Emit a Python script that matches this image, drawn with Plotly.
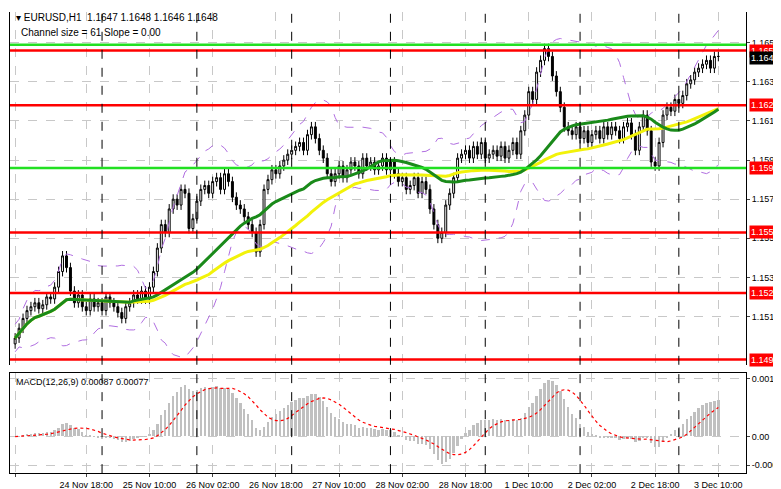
import numpy as np
import pandas as pd
import plotly.graph_objects as go

# closes, in pips above 1.1500, one per H1 bar (24 Nov 00:00 .. 3 Dec 10:00)
close_pips = [
    4, 9, 14, 18, 20, 22, 19, 21, 25, 24,
    30, 38, 46, 40, 28, 22, 26, 20, 18, 24,
    20, 22, 18, 25, 22, 20, 17, 14, 20, 22,
    26, 24, 28, 24, 30, 38, 50, 62, 58, 70,
    75, 72, 80, 78, 60, 65, 74, 80, 82, 78,
    84, 86, 80, 88, 84, 76, 72, 70, 66, 62,
    58, 48, 62, 80, 85, 90, 88, 92, 95, 98,
    100, 102, 104, 100, 108, 112, 106, 100, 96, 88,
    84, 88, 92, 86, 90, 94, 92, 88, 96, 92,
    94, 90, 92, 96, 90, 94, 88, 84, 86, 80,
    82, 86, 78, 84, 80, 70, 62, 55, 58, 72,
    78, 86, 96, 98, 100, 96, 102, 98, 104, 96,
    98, 100, 97, 102, 96, 100, 104, 98, 110, 118,
    130, 126, 140, 146, 152, 148, 138, 130, 122, 112,
    110, 108, 112, 106, 110, 104, 108, 110, 106, 112,
    108, 112, 110, 106, 112, 114, 108, 100, 112, 118,
    110, 94, 92, 104, 118, 122, 120, 126, 124, 128,
    134, 136, 140, 142, 144, 146, 142, 148, 148,
]
tick_bars = [0, 18, 34, 50, 66, 82, 98, 114, 130, 146, 162, 178]
tick_text = ["24 Nov 2025", "24 Nov 18:00", "25 Nov 10:00", "26 Nov 02:00", "26 Nov 18:00",
             "27 Nov 10:00", "28 Nov 02:00", "28 Nov 18:00", "1 Dec 10:00", "2 Dec 02:00",
             "2 Dec 18:00", "3 Dec 10:00"]
separator_bars = [22, 46, 70, 95, 119, 143, 168]
red_levels = [1.1651, 1.1623, 1.1558, 1.1527, 1.1493]
green_levels = [1.1654, 1.1591]
price_ticks = [1.1515, 1.1535, 1.1555, 1.1575, 1.1595, 1.1615, 1.1635, 1.1655]
last_price = 1.1648

close = pd.Series([1.15 + p / 10000 for p in close_pips])
opn = close.shift(1).fillna(close[0] - 0.0003)
wick = 0.00025
high = np.maximum(opn, close) + wick
low = np.minimum(opn, close) - wick
x = list(range(len(close)))

ma_green = close.rolling(30, min_periods=1).mean()
ma_yellow = close.rolling(50, min_periods=1).mean()
mid = close.rolling(20, min_periods=1).mean()
sd = close.rolling(20, min_periods=2).std().bfill()
bb_up, bb_dn = mid + 2 * sd, mid - 2 * sd

macd = close.ewm(span=12).mean() - close.ewm(span=26).mean()
signal = macd.rolling(9, min_periods=1).mean()

fig = go.Figure()
fig.add_trace(go.Scatter(x=x, y=bb_up, mode="lines", line=dict(color="#b06ee0", width=1, dash="dash"), yaxis="y"))
fig.add_trace(go.Scatter(x=x, y=bb_dn, mode="lines", line=dict(color="#b06ee0", width=1, dash="dash"), yaxis="y"))
fig.add_trace(go.Scatter(x=x, y=ma_yellow, mode="lines", line=dict(color="#f2f20a", width=3), yaxis="y"))
fig.add_trace(go.Scatter(x=x, y=ma_green, mode="lines", line=dict(color="#1a8a1a", width=3), yaxis="y"))
fig.add_trace(go.Candlestick(
    x=x, open=opn, high=high, low=low, close=close, yaxis="y",
    increasing=dict(line=dict(color="black", width=1), fillcolor="white"),
    decreasing=dict(line=dict(color="black", width=1), fillcolor="black"),
    whiskerwidth=0,
))
fig.add_trace(go.Bar(x=x, y=macd, marker_color="#c0c0c0", marker_line_width=0, width=0.6, yaxis="y2"))
fig.add_trace(go.Scatter(x=x, y=signal, mode="lines", line=dict(color="red", width=1.2, dash="dot"), yaxis="y2"))

shapes = []
for lv in red_levels:
    shapes.append(dict(type="line", xref="paper", x0=0, x1=1, yref="y", y0=lv, y1=lv,
                       line=dict(color="red", width=2.5)))
for lv in green_levels:
    shapes.append(dict(type="line", xref="paper", x0=0, x1=1, yref="y", y0=lv, y1=lv,
                       line=dict(color="#22e022", width=2.5)))
for b in separator_bars:
    for yr in ("y", "y2"):
        shapes.append(dict(type="line", x0=b, x1=b, yref=yr + " domain", y0=0, y1=1,
                           line=dict(color="black", width=1, dash="dash")))

annotations = [
    dict(x=0.005, y=0.999, xref="paper", yref="paper", xanchor="left", yanchor="top", showarrow=False,
         text="▾ EURUSD,H1  1.1647 1.1648 1.1646 1.1648", font=dict(size=10, color="black")),
    dict(x=0.012, y=0.968, xref="paper", yref="paper", xanchor="left", yanchor="top", showarrow=False,
         text="Channel size = 61 Slope = 0.00", font=dict(size=10, color="black")),
    dict(x=0.005, y=0.215, xref="paper", yref="paper", xanchor="left", yanchor="top", showarrow=False,
         text="MACD(12,26,9) 0.00087 0.00077", font=dict(size=9, color="black")),
]
for lv in [1.1651, 1.1623, 1.1591, 1.1558, 1.1527, 1.1493]:
    annotations.append(dict(x=1.004, y=lv, xref="paper", yref="y", xanchor="left", showarrow=False,
                            text=f"{lv:.4f}", bgcolor="red", font=dict(size=9, color="white"), borderpad=1))
annotations.append(dict(x=1.004, y=last_price - 0.0001, xref="paper", yref="y", xanchor="left", showarrow=False,
                        text=f"{last_price:.4f}", bgcolor="black", font=dict(size=9, color="white"), borderpad=1))

fig.update_layout(
    width=781, height=489, margin=dict(l=2, r=43, t=2, b=22, autoexpand=False),
    showlegend=False, plot_bgcolor="white", paper_bgcolor="white",
    font=dict(family="Liberation Sans", size=9, color="black"),
    xaxis=dict(range=[-1.3, 185], tickvals=tick_bars, ticktext=tick_text, rangeslider_visible=False,
               tickangle=0, showgrid=True, gridcolor="#c8c8c8", griddash="dash", zeroline=False, anchor="y2",
               showline=True, linecolor="black", mirror=True, ticks="outside", ticklen=3,
               tickfont=dict(size=9), automargin=False),
    yaxis=dict(domain=[0.237, 0.996], range=[1.14903, 1.16708], side="right", tickvals=price_ticks,
               tickformat=".4f", showgrid=True, gridcolor="#c8c8c8", griddash="dash", zeroline=False,
               showline=True, linecolor="black", mirror=True, ticks="outside", ticklen=3, automargin=False),
    yaxis2=dict(domain=[0.004, 0.219], range=[-0.00095, 0.00165], side="right",
                tickvals=[-0.00074, 0.0, 0.00151], ticktext=["-0.00074", "0.00", "0.00151"],
                showgrid=True, gridcolor="#c8c8c8", griddash="dash", zeroline=False,
                showline=True, linecolor="black", mirror=True, ticks="outside", ticklen=3, automargin=False),
    shapes=shapes, annotations=annotations, bargap=0,
)

fig.write_html("out.html")
